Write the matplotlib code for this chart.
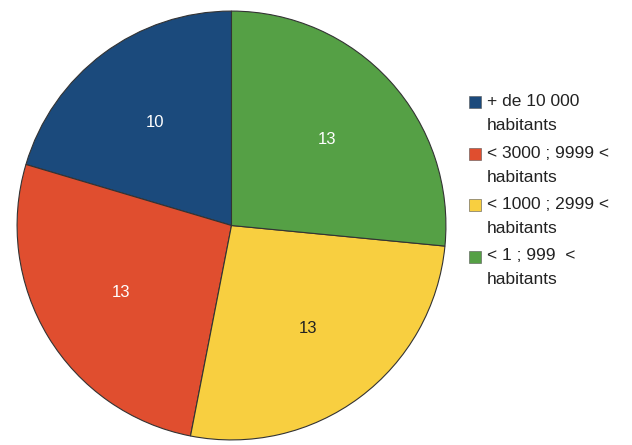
import matplotlib.pyplot as plt
from matplotlib.patches import Rectangle

labels = ["+ de 10 000\nhabitants", "< 3000 ; 9999 <\nhabitants",
          "< 1000 ; 2999 <\nhabitants", "< 1 ; 999  <\nhabitants"]
values = [10, 13, 13, 13]
colors = ["#1b4a7c", "#e04e2f", "#f8cf40", "#55a045"]
text_colors = ["white", "white", "#222222", "white"]

plt.rcParams['font.family'] = ['Liberation Sans', 'DejaVu Sans']

fig = plt.figure(figsize=(6.32, 4.45), dpi=100)
ax = fig.add_axes([16/632, 4/445, 431/632, 431/445])

wedges, texts = ax.pie(values, colors=colors, startangle=90, counterclock=True,
                       labels=[str(v) for v in values], labeldistance=0.6,
                       wedgeprops=dict(edgecolor="#333333", linewidth=0.8))
for t, c in zip(texts, text_colors):
    t.set_color(c)
    t.set_fontsize(12)
    t.set_ha("center")
    t.set_va("center")
ax.set_xlim(-1.005, 1.005)
ax.set_ylim(-1.005, 1.005)
ax.set_aspect("equal")

# legend drawn by hand, square next to the first line
y0 = 102
step = 51.5
for i, (lab, col) in enumerate(zip(labels, colors)):
    y = y0 + i * step
    fig.patches.append(Rectangle((469/632, 1 - (y + 6)/445), 12/632, 12/445,
                                 facecolor=col, edgecolor="#555555", linewidth=0.4,
                                 transform=fig.transFigure))
    fig.text(487/632, 1 - (y - 8)/445, lab, fontsize=12.5, va="top", ha="left",
             color="#222222", linespacing=1.75)

fig.savefig("out.png", dpi=100)
